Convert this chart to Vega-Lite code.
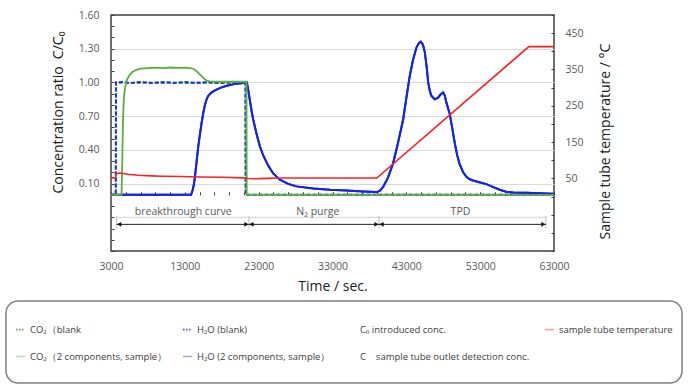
{
  "$schema": "https://vega.github.io/schema/vega-lite/v6.json",
  "autosize": {"type": "none"},
  "padding": {"left": 111, "top": 15, "right": 144, "bottom": 141},
  "width": 443,
  "height": 236,
  "background": "white",
  "datasets": {
    "conc": [
      {"s": "CO₂（blank", "t": 3000, "c": 0},
      {"s": "CO₂（blank", "t": 3640, "c": 0},
      {"s": "CO₂（blank", "t": 3670, "c": 1.0},
      {"s": "CO₂（blank", "t": 4500, "c": 0.998},
      {"s": "CO₂（blank", "t": 6000, "c": 0.994},
      {"s": "CO₂（blank", "t": 8000, "c": 0.998},
      {"s": "CO₂（blank", "t": 10000, "c": 0.995},
      {"s": "CO₂（blank", "t": 12000, "c": 0.998},
      {"s": "CO₂（blank", "t": 14000, "c": 0.994},
      {"s": "CO₂（blank", "t": 16000, "c": 0.997},
      {"s": "CO₂（blank", "t": 18000, "c": 0.994},
      {"s": "CO₂（blank", "t": 20000, "c": 0.997},
      {"s": "CO₂（blank", "t": 21200, "c": 0.996},
      {"s": "CO₂（blank", "t": 21230, "c": 0},
      {"s": "CO₂（blank", "t": 63000, "c": 0},
      {"s": "H₂O (blank)", "t": 3000, "c": 0},
      {"s": "H₂O (blank)", "t": 3650, "c": 0},
      {"s": "H₂O (blank)", "t": 3680, "c": 1.0},
      {"s": "H₂O (blank)", "t": 4500, "c": 1.004},
      {"s": "H₂O (blank)", "t": 5500, "c": 0.995},
      {"s": "H₂O (blank)", "t": 7000, "c": 1.004},
      {"s": "H₂O (blank)", "t": 8500, "c": 0.995},
      {"s": "H₂O (blank)", "t": 10000, "c": 1.004},
      {"s": "H₂O (blank)", "t": 11500, "c": 0.996},
      {"s": "H₂O (blank)", "t": 13000, "c": 1.004},
      {"s": "H₂O (blank)", "t": 14500, "c": 0.996},
      {"s": "H₂O (blank)", "t": 16000, "c": 1.002},
      {"s": "H₂O (blank)", "t": 17500, "c": 0.995},
      {"s": "H₂O (blank)", "t": 19000, "c": 1.003},
      {"s": "H₂O (blank)", "t": 20500, "c": 0.996},
      {"s": "H₂O (blank)", "t": 21220, "c": 1.0},
      {"s": "H₂O (blank)", "t": 21250, "c": 0},
      {"s": "H₂O (blank)", "t": 63000, "c": 0},
      {"s": "H₂O (2 components, sample）", "t": 3000, "c": 0},
      {"s": "H₂O (2 components, sample）", "t": 13850, "c": 0},
      {"s": "H₂O (2 components, sample）", "t": 14050, "c": 0.04},
      {"s": "H₂O (2 components, sample）", "t": 14250, "c": 0.1},
      {"s": "H₂O (2 components, sample）", "t": 14400, "c": 0.18},
      {"s": "H₂O (2 components, sample）", "t": 14600, "c": 0.3},
      {"s": "H₂O (2 components, sample）", "t": 14820, "c": 0.43},
      {"s": "H₂O (2 components, sample）", "t": 15050, "c": 0.54},
      {"s": "H₂O (2 components, sample）", "t": 15270, "c": 0.64},
      {"s": "H₂O (2 components, sample）", "t": 15500, "c": 0.73},
      {"s": "H₂O (2 components, sample）", "t": 15720, "c": 0.8},
      {"s": "H₂O (2 components, sample）", "t": 15950, "c": 0.85},
      {"s": "H₂O (2 components, sample）", "t": 16170, "c": 0.88},
      {"s": "H₂O (2 components, sample）", "t": 16600, "c": 0.91},
      {"s": "H₂O (2 components, sample）", "t": 17080, "c": 0.93},
      {"s": "H₂O (2 components, sample）", "t": 17800, "c": 0.952},
      {"s": "H₂O (2 components, sample）", "t": 18660, "c": 0.97},
      {"s": "H₂O (2 components, sample）", "t": 19700, "c": 0.985},
      {"s": "H₂O (2 components, sample）", "t": 20900, "c": 0.995},
      {"s": "H₂O (2 components, sample）", "t": 21400, "c": 1.0},
      {"s": "H₂O (2 components, sample）", "t": 21600, "c": 0.93},
      {"s": "H₂O (2 components, sample）", "t": 21810, "c": 0.84},
      {"s": "H₂O (2 components, sample）", "t": 22030, "c": 0.75},
      {"s": "H₂O (2 components, sample）", "t": 22260, "c": 0.67},
      {"s": "H₂O (2 components, sample）", "t": 22720, "c": 0.54},
      {"s": "H₂O (2 components, sample）", "t": 23170, "c": 0.43},
      {"s": "H₂O (2 components, sample）", "t": 23620, "c": 0.35},
      {"s": "H₂O (2 components, sample）", "t": 24290, "c": 0.26},
      {"s": "H₂O (2 components, sample）", "t": 24970, "c": 0.19},
      {"s": "H₂O (2 components, sample）", "t": 25870, "c": 0.135},
      {"s": "H₂O (2 components, sample）", "t": 27000, "c": 0.097},
      {"s": "H₂O (2 components, sample）", "t": 28130, "c": 0.075},
      {"s": "H₂O (2 components, sample）", "t": 30380, "c": 0.057},
      {"s": "H₂O (2 components, sample）", "t": 32640, "c": 0.045},
      {"s": "H₂O (2 components, sample）", "t": 34900, "c": 0.038},
      {"s": "H₂O (2 components, sample）", "t": 37150, "c": 0.03},
      {"s": "H₂O (2 components, sample）", "t": 38960, "c": 0.024},
      {"s": "H₂O (2 components, sample）", "t": 39400, "c": 0.035},
      {"s": "H₂O (2 components, sample）", "t": 39860, "c": 0.07},
      {"s": "H₂O (2 components, sample）", "t": 40500, "c": 0.15},
      {"s": "H₂O (2 components, sample）", "t": 41210, "c": 0.28},
      {"s": "H₂O (2 components, sample）", "t": 41900, "c": 0.47},
      {"s": "H₂O (2 components, sample）", "t": 42570, "c": 0.67},
      {"s": "H₂O (2 components, sample）", "t": 43000, "c": 0.86},
      {"s": "H₂O (2 components, sample）", "t": 43470, "c": 1.06},
      {"s": "H₂O (2 components, sample）", "t": 43900, "c": 1.2},
      {"s": "H₂O (2 components, sample）", "t": 44370, "c": 1.31},
      {"s": "H₂O (2 components, sample）", "t": 44700, "c": 1.35},
      {"s": "H₂O (2 components, sample）", "t": 44960, "c": 1.363},
      {"s": "H₂O (2 components, sample）", "t": 45250, "c": 1.335},
      {"s": "H₂O (2 components, sample）", "t": 45500, "c": 1.27},
      {"s": "H₂O (2 components, sample）", "t": 45750, "c": 1.14},
      {"s": "H₂O (2 components, sample）", "t": 45960, "c": 1.0},
      {"s": "H₂O (2 components, sample）", "t": 46200, "c": 0.92},
      {"s": "H₂O (2 components, sample）", "t": 46400, "c": 0.88},
      {"s": "H₂O (2 components, sample）", "t": 46850, "c": 0.85},
      {"s": "H₂O (2 components, sample）", "t": 47300, "c": 0.865},
      {"s": "H₂O (2 components, sample）", "t": 47600, "c": 0.89},
      {"s": "H₂O (2 components, sample）", "t": 47980, "c": 0.91},
      {"s": "H₂O (2 components, sample）", "t": 48200, "c": 0.885},
      {"s": "H₂O (2 components, sample）", "t": 48430, "c": 0.82},
      {"s": "H₂O (2 components, sample）", "t": 48880, "c": 0.72},
      {"s": "H₂O (2 components, sample）", "t": 49200, "c": 0.6},
      {"s": "H₂O (2 components, sample）", "t": 49560, "c": 0.46},
      {"s": "H₂O (2 components, sample）", "t": 49900, "c": 0.35},
      {"s": "H₂O (2 components, sample）", "t": 50240, "c": 0.27},
      {"s": "H₂O (2 components, sample）", "t": 50700, "c": 0.2},
      {"s": "H₂O (2 components, sample）", "t": 51140, "c": 0.16},
      {"s": "H₂O (2 components, sample）", "t": 51600, "c": 0.138},
      {"s": "H₂O (2 components, sample）", "t": 52040, "c": 0.127},
      {"s": "H₂O (2 components, sample）", "t": 53000, "c": 0.11},
      {"s": "H₂O (2 components, sample）", "t": 53850, "c": 0.095},
      {"s": "H₂O (2 components, sample）", "t": 54700, "c": 0.07},
      {"s": "H₂O (2 components, sample）", "t": 55650, "c": 0.045},
      {"s": "H₂O (2 components, sample）", "t": 56500, "c": 0.028},
      {"s": "H₂O (2 components, sample）", "t": 57500, "c": 0.02},
      {"s": "H₂O (2 components, sample）", "t": 59260, "c": 0.018},
      {"s": "H₂O (2 components, sample）", "t": 61000, "c": 0.014},
      {"s": "H₂O (2 components, sample）", "t": 62830, "c": 0.01},
      {"s": "H₂O (2 components, sample）", "t": 63000, "c": 0.01},
      {"s": "CO₂（2 components, sample）", "t": 3000, "c": 0},
      {"s": "CO₂（2 components, sample）", "t": 4420, "c": 0},
      {"s": "CO₂（2 components, sample）", "t": 4480, "c": 0.15},
      {"s": "CO₂（2 components, sample）", "t": 4530, "c": 0.31},
      {"s": "CO₂（2 components, sample）", "t": 4580, "c": 0.5},
      {"s": "CO₂（2 components, sample）", "t": 4630, "c": 0.66},
      {"s": "CO₂（2 components, sample）", "t": 4700, "c": 0.8},
      {"s": "CO₂（2 components, sample）", "t": 4800, "c": 0.9},
      {"s": "CO₂（2 components, sample）", "t": 4950, "c": 0.97},
      {"s": "CO₂（2 components, sample）", "t": 5150, "c": 1.02},
      {"s": "CO₂（2 components, sample）", "t": 5450, "c": 1.06},
      {"s": "CO₂（2 components, sample）", "t": 5850, "c": 1.09},
      {"s": "CO₂（2 components, sample）", "t": 6350, "c": 1.11},
      {"s": "CO₂（2 components, sample）", "t": 7000, "c": 1.122},
      {"s": "CO₂（2 components, sample）", "t": 8000, "c": 1.128},
      {"s": "CO₂（2 components, sample）", "t": 9000, "c": 1.131},
      {"s": "CO₂（2 components, sample）", "t": 10000, "c": 1.127},
      {"s": "CO₂（2 components, sample）", "t": 11000, "c": 1.133},
      {"s": "CO₂（2 components, sample）", "t": 12000, "c": 1.129},
      {"s": "CO₂（2 components, sample）", "t": 13000, "c": 1.132},
      {"s": "CO₂（2 components, sample）", "t": 13700, "c": 1.128},
      {"s": "CO₂（2 components, sample）", "t": 14140, "c": 1.122},
      {"s": "CO₂（2 components, sample）", "t": 14600, "c": 1.1},
      {"s": "CO₂（2 components, sample）", "t": 15050, "c": 1.07},
      {"s": "CO₂（2 components, sample）", "t": 15500, "c": 1.04},
      {"s": "CO₂（2 components, sample）", "t": 15950, "c": 1.015},
      {"s": "CO₂（2 components, sample）", "t": 16500, "c": 1.008},
      {"s": "CO₂（2 components, sample）", "t": 18000, "c": 1.006},
      {"s": "CO₂（2 components, sample）", "t": 20000, "c": 1.006},
      {"s": "CO₂（2 components, sample）", "t": 21350, "c": 1.006},
      {"s": "CO₂（2 components, sample）", "t": 21380, "c": 0},
      {"s": "CO₂（2 components, sample）", "t": 63000, "c": 0}
    ],
    "temp": [
      {"s": "sample tube temperature", "t": 3000, "temp": 51},
      {"s": "sample tube temperature", "t": 3620, "temp": 52},
      {"s": "sample tube temperature", "t": 3700, "temp": 63},
      {"s": "sample tube temperature", "t": 4200, "temp": 65},
      {"s": "sample tube temperature", "t": 5300, "temp": 61.5},
      {"s": "sample tube temperature", "t": 6700, "temp": 58.5},
      {"s": "sample tube temperature", "t": 8500, "temp": 57},
      {"s": "sample tube temperature", "t": 9900, "temp": 56},
      {"s": "sample tube temperature", "t": 12500, "temp": 55},
      {"s": "sample tube temperature", "t": 15000, "temp": 54},
      {"s": "sample tube temperature", "t": 18000, "temp": 53},
      {"s": "sample tube temperature", "t": 21000, "temp": 51.5},
      {"s": "sample tube temperature", "t": 21600, "temp": 49.5},
      {"s": "sample tube temperature", "t": 22500, "temp": 49},
      {"s": "sample tube temperature", "t": 24000, "temp": 50},
      {"s": "sample tube temperature", "t": 25500, "temp": 51},
      {"s": "sample tube temperature", "t": 30000, "temp": 51},
      {"s": "sample tube temperature", "t": 35000, "temp": 51},
      {"s": "sample tube temperature", "t": 39000, "temp": 51},
      {"s": "sample tube temperature", "t": 59600, "temp": 413},
      {"s": "sample tube temperature", "t": 63000, "temp": 413}
    ]
  },
  "layer": [
    {
      "layer": [
        {
          "data": {"name": "conc"},
          "transform": [{"filter": {"field": "s", "equal": "H₂O (2 components, sample）"}}],
          "mark": {"type": "line", "strokeWidth": 2},
          "encoding": {
            "x": {"field": "t", "type": "quantitative",
              "scale": {"domain": [3000, 63000], "nice": false, "zero": false},
              "axis": {"values": [3000, 13000, 23000, 33000, 43000, 53000, 63000], "tickCount": 100, "format": "d", "ticks": false, "domain": false, "grid": false,
                       "labelPadding": 10, "labelFontSize": 10.5, "labelColor": "#595959", "labelFlush": false, "labelOverlap": false,
                       "title": "Time / sec.", "titleFontSize": 14, "titleColor": "#1a1a1a", "titleY": 35, "titleBaseline": "middle"}},
            "y": {"field": "c", "type": "quantitative",
              "scale": {"domain": [-0.5, 1.6], "nice": false, "zero": false},
              "axis": {"values": [-0.5, -0.4, -0.3, -0.2, -0.1, 0, 0.1, 0.2, 0.3, 0.4, 0.5, 0.6, 0.7, 0.8, 0.9, 1, 1.1, 1.2, 1.3, 1.4, 1.5, 1.6],
                       "tickCount": 100, "labelOverlap": false,
                       "labelExpr": "indexof([0.1, 0.4, 0.7, 1, 1.3, 1.6], datum.value) >= 0 ? format(datum.value, '.2f') : ''",
                       "tickSize": -3, "tickColor": "#404040", "tickWidth": 1, "domain": false,
                       "labelPadding": 15, "labelFontSize": 10.5, "labelColor": "#595959",
                       "grid": true, "gridColor": "#d9d9d9", "gridWidth": 1.2,
                       "gridOpacity": {"condition": {"test": "indexof([0.1, 0.4, 0.7, 1, 1.3], datum.value) >= 0", "value": 1}, "value": 0},
                       "title": "Concentration ratio\u00a0 C/C₀", "titleFontSize": 14, "titleColor": "#1a1a1a",
                       "titleX": -53, "titleY": 97, "titleAngle": 270, "titleAlign": "center", "titleBaseline": "middle"}},
            "color": {"field": "s", "type": "nominal",
              "scale": {"domain": ["CO₂（blank", "H₂O (blank)", "C₀ introduced conc.", "sample tube temperature", "CO₂（2 components, sample）", "H₂O (2 components, sample）", "C\u00a0\u00a0\u00a0\u00a0sample tube outlet detection conc."],
                        "range": ["#3f9f3f", "#1f33d8", "transparent", "#ff1f1f", "#5aaf3c", "#1424e6", "transparent"]},
              "legend": {
                "orient": "none", "legendX": -105, "legendY": 286,
                "title": " ", "titleFontSize": 10, "titlePadding": 4,
                "columns": 4, "direction": "horizontal",
                "symbolType": "M-1,0H1M0,3.1", "symbolSize": 81, "symbolStrokeWidth": 1.6,
                "labelFontSize": 9.5, "labelColor": "#404040", "labelFont": "Open Sans", "labelLimit": 400,
                "columnPadding": 11, "rowPadding": 4, "padding": 9, "gridAlign": "each",
                "strokeColor": "#808080", "cornerRadius": 12,
                "labelExpr": "datum.value == 'sample tube temperature' ? datum.label + '          ' : datum.label",
                "encode": {
                  "symbols": {"update": {
                    "opacity": {"signal": "indexof(datum.value, 'blank') >= 0 ? 0.85 : 0.4"},
                    "strokeDash": {"signal": "indexof(datum.value, 'blank') >= 0 ? [1.5, 1.5] : [1, 0]"}
                  }},
                  "legend": {"update": {"strokeWidth": {"value": 1.5}}}
                }
              }}
          }
        },
        {
          "data": {"values": [{"t": 3770, "t2": 61900, "c": -0.2}]},
          "mark": {"type": "rule", "color": "#d4d4d4", "strokeWidth": 1},
          "encoding": {
            "x": {"field": "t", "type": "quantitative", "scale": {"domain": [3000, 63000], "nice": false, "zero": false}},
            "x2": {"field": "t2"},
            "y": {"field": "c", "type": "quantitative", "scale": {"domain": [-0.5, 1.6], "nice": false, "zero": false}}
          }
        },
        {
          "data": {"values": [
            {"t": 3770, "c": -0.19, "c2": -0.3},
            {"t": 21680, "c": -0.19, "c2": -0.3},
            {"t": 39300, "c": -0.19, "c2": -0.3},
            {"t": 61900, "c": -0.19, "c2": -0.3}
          ]},
          "mark": {"type": "rule", "color": "#bdbdbd", "strokeWidth": 1},
          "encoding": {
            "x": {"field": "t", "type": "quantitative", "scale": {"domain": [3000, 63000], "nice": false, "zero": false}},
            "y": {"field": "c", "type": "quantitative", "scale": {"domain": [-0.5, 1.6], "nice": false, "zero": false}},
            "y2": {"field": "c2"}
          }
        },
        {
          "data": {"values": [
            {"t": 3770, "t2": 21680, "c": -0.263},
            {"t": 21680, "t2": 39300, "c": -0.263},
            {"t": 39300, "t2": 61900, "c": -0.263}
          ]},
          "mark": {"type": "rule", "color": "#222222", "strokeWidth": 1},
          "encoding": {
            "x": {"field": "t", "type": "quantitative", "scale": {"domain": [3000, 63000], "nice": false, "zero": false}},
            "x2": {"field": "t2"},
            "y": {"field": "c", "type": "quantitative", "scale": {"domain": [-0.5, 1.6], "nice": false, "zero": false}}
          }
        },
        {
          "data": {"values": [
            {"t": 4110, "c": -0.263, "dir": "left"},
            {"t": 21340, "c": -0.263, "dir": "right"},
            {"t": 22020, "c": -0.263, "dir": "left"},
            {"t": 38960, "c": -0.263, "dir": "right"},
            {"t": 39640, "c": -0.263, "dir": "left"},
            {"t": 61560, "c": -0.263, "dir": "right"}
          ]},
          "mark": {"type": "point", "filled": true, "color": "#111111", "opacity": 1, "size": 24},
          "encoding": {
            "x": {"field": "t", "type": "quantitative", "scale": {"domain": [3000, 63000], "nice": false, "zero": false}},
            "y": {"field": "c", "type": "quantitative", "scale": {"domain": [-0.5, 1.6], "nice": false, "zero": false}},
            "shape": {"field": "dir", "type": "nominal", "scale": {"domain": ["left", "right"], "range": ["triangle-left", "triangle-right"]}, "legend": null}
          }
        },
        {
          "data": {"values": [
            {"label": "breakthrough curve", "t": 12790, "c": -0.15},
            {"label": "N₂ purge", "t": 31020, "c": -0.15},
            {"label": "TPD", "t": 50330, "c": -0.15}
          ]},
          "mark": {"type": "text", "fontSize": 10.5, "color": "#595959", "baseline": "middle", "align": "center", "font": "Open Sans"},
          "encoding": {
            "x": {"field": "t", "type": "quantitative", "scale": {"domain": [3000, 63000], "nice": false, "zero": false}},
            "y": {"field": "c", "type": "quantitative", "scale": {"domain": [-0.5, 1.6], "nice": false, "zero": false}},
            "text": {"field": "label", "type": "nominal"}
          }
        },
        {
          "data": {"name": "conc"},
          "transform": [{"filter": {"field": "s", "equal": "CO₂（blank"}}],
          "mark": {"type": "line", "strokeWidth": 2, "strokeDash": [4, 2]},
          "encoding": {
            "x": {"field": "t", "type": "quantitative", "scale": {"domain": [3000, 63000], "nice": false, "zero": false}},
            "y": {"field": "c", "type": "quantitative", "scale": {"domain": [-0.5, 1.6], "nice": false, "zero": false}},
            "color": {"field": "s", "type": "nominal",
              "scale": {"domain": ["CO₂（blank", "H₂O (blank)", "C₀ introduced conc.", "sample tube temperature", "CO₂（2 components, sample）", "H₂O (2 components, sample）", "C\u00a0\u00a0\u00a0\u00a0sample tube outlet detection conc."],
                        "range": ["#3f9f3f", "#1f33d8", "transparent", "#ff1f1f", "#5aaf3c", "#1424e6", "transparent"]}}
          }
        },
        {
          "data": {"name": "conc"},
          "transform": [{"filter": {"field": "s", "equal": "H₂O (blank)"}}],
          "mark": {"type": "line", "strokeWidth": 2, "strokeDash": [4, 2]},
          "encoding": {
            "x": {"field": "t", "type": "quantitative", "scale": {"domain": [3000, 63000], "nice": false, "zero": false}},
            "y": {"field": "c", "type": "quantitative", "scale": {"domain": [-0.5, 1.6], "nice": false, "zero": false}},
            "color": {"field": "s", "type": "nominal",
              "scale": {"domain": ["CO₂（blank", "H₂O (blank)", "C₀ introduced conc.", "sample tube temperature", "CO₂（2 components, sample）", "H₂O (2 components, sample）", "C\u00a0\u00a0\u00a0\u00a0sample tube outlet detection conc."],
                        "range": ["#3f9f3f", "#1f33d8", "transparent", "#ff1f1f", "#5aaf3c", "#1424e6", "transparent"]}}
          }
        },
        {
          "data": {"name": "conc"},
          "transform": [{"filter": {"field": "s", "equal": "H₂O (2 components, sample）"}}],
          "mark": {"type": "line", "strokeWidth": 2},
          "encoding": {
            "x": {"field": "t", "type": "quantitative", "scale": {"domain": [3000, 63000], "nice": false, "zero": false}},
            "y": {"field": "c", "type": "quantitative", "scale": {"domain": [-0.5, 1.6], "nice": false, "zero": false}},
            "color": {"field": "s", "type": "nominal",
              "scale": {"domain": ["CO₂（blank", "H₂O (blank)", "C₀ introduced conc.", "sample tube temperature", "CO₂（2 components, sample）", "H₂O (2 components, sample）", "C\u00a0\u00a0\u00a0\u00a0sample tube outlet detection conc."],
                        "range": ["#3f9f3f", "#1f33d8", "transparent", "#ff1f1f", "#5aaf3c", "#1424e6", "transparent"]}}
          }
        },
        {
          "data": {"name": "conc"},
          "transform": [{"filter": {"field": "s", "equal": "CO₂（2 components, sample）"}}],
          "mark": {"type": "line", "strokeWidth": 1.8},
          "encoding": {
            "x": {"field": "t", "type": "quantitative", "scale": {"domain": [3000, 63000], "nice": false, "zero": false}},
            "y": {"field": "c", "type": "quantitative", "scale": {"domain": [-0.5, 1.6], "nice": false, "zero": false}},
            "color": {"field": "s", "type": "nominal",
              "scale": {"domain": ["CO₂（blank", "H₂O (blank)", "C₀ introduced conc.", "sample tube temperature", "CO₂（2 components, sample）", "H₂O (2 components, sample）", "C\u00a0\u00a0\u00a0\u00a0sample tube outlet detection conc."],
                        "range": ["#3f9f3f", "#1f33d8", "transparent", "#ff1f1f", "#5aaf3c", "#1424e6", "transparent"]}}
          }
        }
      ]
    },
    {
      "data": {"name": "temp"},
      "mark": {"type": "line", "strokeWidth": 1.6},
      "encoding": {
        "x": {"field": "t", "type": "quantitative",
          "scale": {"domain": [3000, 63000], "nice": false, "zero": false},
          "axis": {"orient": "bottom", "offset": -56.2, "values": [3000, 5000, 7000, 9000, 11000, 13000, 15000, 17000, 19000, 21000, 23000, 25000, 27000, 29000, 31000, 33000, 35000, 37000, 39000, 41000, 43000, 45000, 47000, 49000, 51000, 53000, 55000, 57000, 59000, 61000, 63000],
                   "tickCount": 100, "labels": false, "domain": false, "ticks": true, "tickSize": -3, "tickColor": "#404040", "tickWidth": 1, "title": null, "grid": false}},
        "y": {"field": "temp", "type": "quantitative",
          "scale": {"domain": [-150, 500], "nice": false, "zero": false},
          "axis": {"orient": "right", "values": [-150, -100, -50, 0, 50, 100, 150, 200, 250, 300, 350, 400, 450, 500],
                   "tickCount": 100, "labelOverlap": false,
                   "labelExpr": "indexof([50, 150, 250, 350, 450], datum.value) >= 0 ? datum.label : ''",
                   "tickSize": -3, "tickColor": "#404040", "tickWidth": 1, "domain": false, "grid": false,
                   "labelPadding": 14, "labelFontSize": 10.5, "labelColor": "#595959",
                   "title": "Sample tube temperature / °C", "titleFontSize": 14, "titleColor": "#1a1a1a",
                   "titleX": 51, "titleY": 126, "titleAngle": 270, "titleAlign": "center", "titleBaseline": "middle"}},
        "color": {"field": "s", "type": "nominal",
          "scale": {"domain": ["CO₂（blank", "H₂O (blank)", "C₀ introduced conc.", "sample tube temperature", "CO₂（2 components, sample）", "H₂O (2 components, sample）", "C\u00a0\u00a0\u00a0\u00a0sample tube outlet detection conc."],
                    "range": ["#3f9f3f", "#1f33d8", "transparent", "#ff1f1f", "#5aaf3c", "#1424e6", "transparent"]}}
      }
    }
  ],
  "resolve": {"scale": {"y": "independent"}, "axis": {"x": "independent"}},
  "config": {
    "font": "Open Sans",
    "view": {"stroke": "#404040", "strokeWidth": 1.5},
    "axis": {"labelFont": "Open Sans", "titleFont": "Open Sans", "titleFontWeight": "normal"},
    "legend": {"labelFont": "Open Sans"}
  }
}
